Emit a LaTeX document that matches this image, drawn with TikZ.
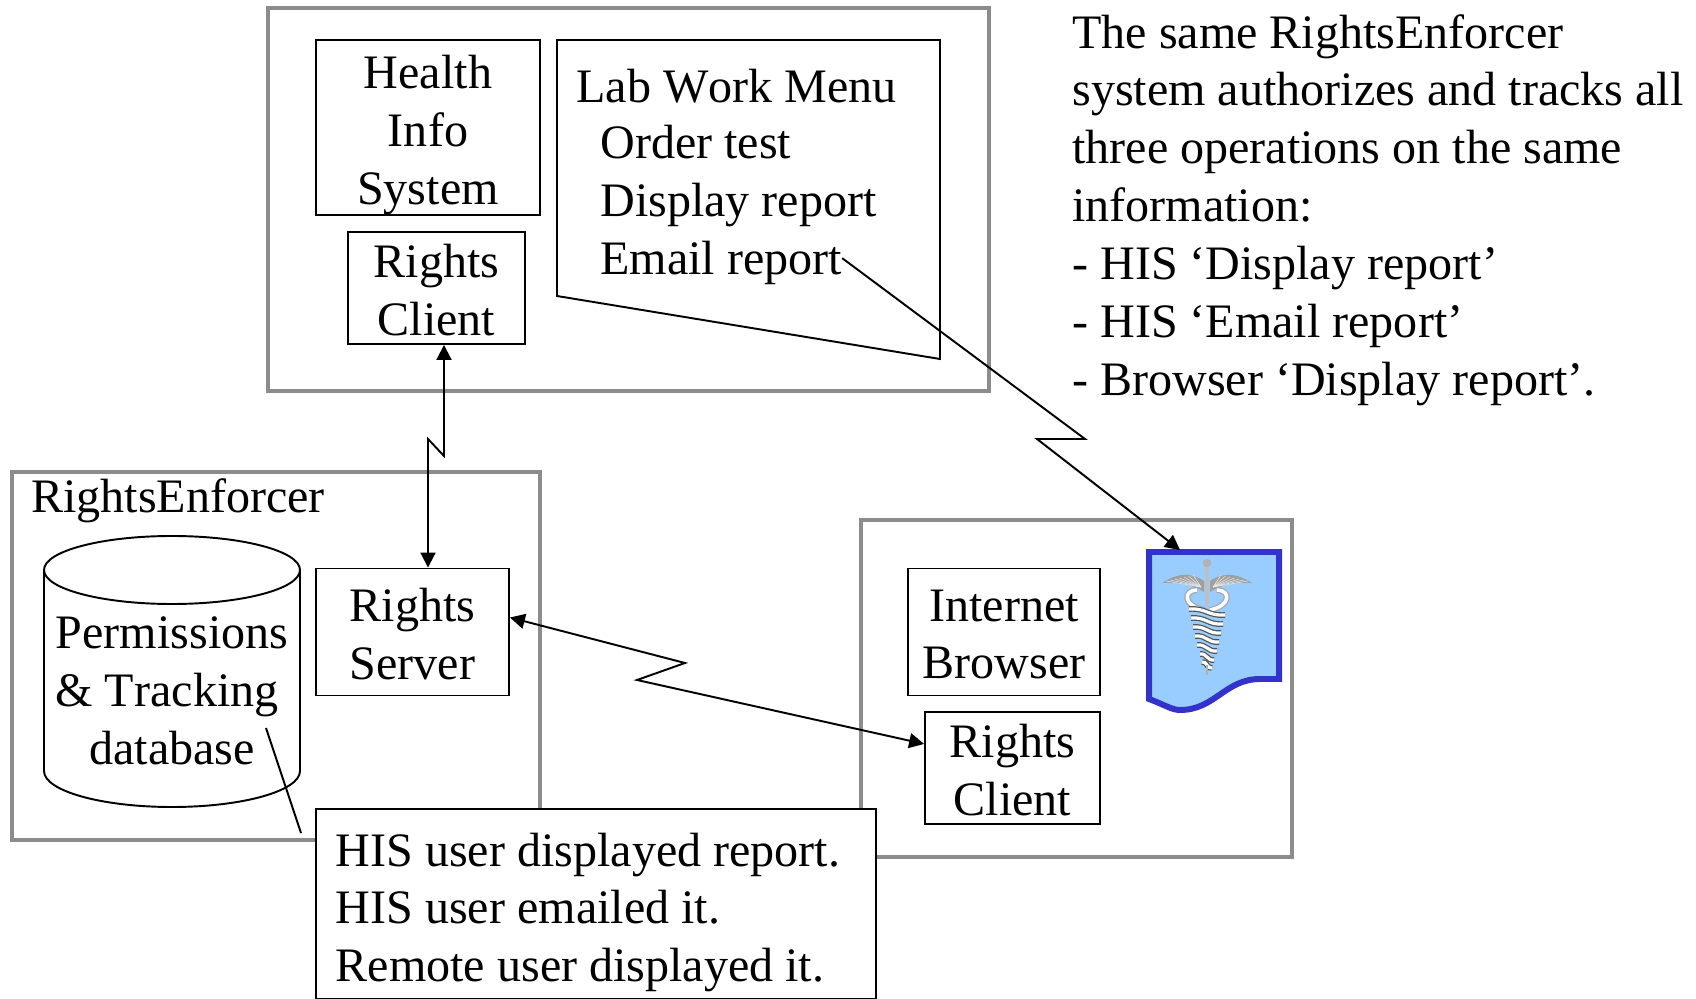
\documentclass[tikz,border=0pt]{standalone}
\usepackage{fontspec}
\setmainfont[Kerning=Off]{Liberation Serif}
\usetikzlibrary{arrows.meta}
\definecolor{framegray}{HTML}{8C8C8C}
\definecolor{docblue}{HTML}{99CCFF}
\definecolor{docedge}{HTML}{3333CC}
\tikzset{
  every node/.style={font=\fontsize{27.35pt}{32.9pt}\selectfont, inner sep=0pt},
  frame/.style={draw=framegray, line width=2.3pt},
  box/.style={draw, line width=1.1pt, fill=white},
  textline/.style={anchor=base west},
  link/.style={line width=1.1pt, {Triangle[length=8.5pt,width=8.5pt]}-{Triangle[length=8.5pt,width=8.5pt]}},
  oneway/.style={line width=1.1pt, -{Triangle[length=8.5pt,width=8.5pt]}}
}
\begin{document}
\begin{tikzpicture}[x=0.02cm, y=-0.02cm]
  \useasboundingbox (0,0) rectangle (1696,999);

  % The three gray frames
  \draw[frame] (268,8) rectangle (989,391);
  \draw[frame] (12,472) rectangle (540,840);
  \draw[frame] (861,520) rectangle (1292,857);

  % Top frame
  \node[box, minimum width=4.48cm, minimum height=3.5cm, label={[align=center, yshift=-4.2pt]center:Health\\Info\\System}] (health) at (428,127.5) {};
  \node[box, minimum width=3.54cm, minimum height=2.24cm, label={[align=center, yshift=-1.4pt]center:Rights\\Client}] (hisclient) at (436.5,288) {};
  \draw[line width=1.1pt] (557,40) -- (940,40) -- (940,359) -- (557,296) -- cycle; % Menu with slanted edge
  \node[textline] (menutitle) at (576,103) {Lab Work Menu};
  \node[textline] (orderitem) at (600,159) {Order test};
  \node[textline] (displayitem) at (600,217) {Display report};
  \node[textline] (emailitem) at (600,275) {Email report};

  % Text on the right
  \node[anchor=north west, align=left] (notes) at (1072,14) {The same RightsEnforcer\\system authorizes and tracks all\\three operations on the same\\information:\\- HIS ‘Display report’\\- HIS ‘Email report’\\- Browser ‘Display report’.};

  % RightsEnforcer frame
  \node[textline] (enforcer) at (31,513) {RightsEnforcer};
  \draw[line width=1.1pt] (44,570) -- (44,771) arc[start angle=180, end angle=0, x radius=128, y radius=36] -- (300,570);
  \draw[line width=1.1pt] (172,570) ellipse [x radius=128, y radius=34];
  \node[align=center] (database) at (172,691) {Permissions\\\hbox{\& Tracking\kern 5.7pt}\\database};
  \node[box, minimum width=3.86cm, minimum height=2.54cm, label={[align=center, yshift=-1.4pt]center:Rights\\Server}] (server) at (412.5,632) {};

  % Browser frame
  \node[box, minimum width=3.84cm, minimum height=2.54cm, label={[align=center, yshift=-1.4pt]center:Internet\\Browser}] (browser) at (1004,632) {};
  \node[box, minimum width=3.5cm, minimum height=2.24cm, label={[align=center, yshift=-1.2pt]center:Rights\\Client}] (webclient) at (1012.5,768) {};

  % The report page
  \draw[draw=docedge, fill=docblue, line width=3.4pt, miter limit=2] (1149,552) -- (1279,552) -- (1279,679) -- (1260,679)
    .. controls (1225,679) and (1215,710) .. (1180,710)
    .. controls (1172,710) and (1165,705) .. (1149,699) -- cycle;

  % Staff emblem on the page
  \foreach \s in {-1,1} {
    \fill[gray!75] (1207+\s*3,581) .. controls (1207+\s*12,575) and (1207+\s*25,570) .. (1207+\s*45,583)
      .. controls (1207+\s*30,582) and (1207+\s*15,584) .. (1207+\s*3,592) -- cycle; % Wing
    \foreach \k in {0,...,6} {
      \draw[white!85!gray, line width=0.3pt] (1207+\s*6,587) -- (1207+\s*14+\s*\k*4.5,575+\k*1); % Feathers
    }
    \draw[gray!70, line width=3.4pt] (1207+\s*3,610) .. controls (1207+\s*24,606) and (1207+\s*24,590) .. (1207+\s*10,590); % Snake top
    \draw[white, line width=2pt] (1207+\s*3,610) .. controls (1207+\s*24,606) and (1207+\s*24,590) .. (1207+\s*10,590);
  }
  \draw[gray!50, line width=2.2pt] (1207,566) -- (1207,606);
  \fill[gray!60] (1207,563) circle (4.2);
  \foreach \y/\w in {612/18, 621/16, 630/14, 639/12, 648/10, 657/7, 665/5} {
    \draw[gray!65!black, line width=3.2pt] (1207-\w,\y-3) .. controls (1207,\y-4) and (1207,\y+4) .. (1207+\w,\y+3); % Coil turns
    \draw[white, line width=1.8pt] (1207-\w,\y-3) .. controls (1207,\y-4) and (1207,\y+4) .. (1207+\w,\y+3);
  }
  \draw[gray!60, line width=1.4pt] (1207,665) -- (1207,675);

  % Note box over the frames
  \node[box, minimum width=11.2cm, minimum height=3.8cm, label={[anchor=west, xshift=11.6pt, yshift=-4.8pt, align=left]west:HIS user displayed report.\\HIS user emailed it.\\Remote user displayed it.}] (note) at (596,904) {};

  % Connectors
  \coordinate (kinkA) at (444,456);
  \coordinate (kinkB) at (428,439);
  \draw[link] (hisclient.south -| kinkA) -- (kinkA) -- (kinkB) -- (kinkB |- server.north);

  \coordinate (kinkC) at (685,663);
  \coordinate (kinkD) at (637,680);
  \draw[link] ([yshift=8.25pt]server.east) -- (kinkC) -- (kinkD) -- ([yshift=13.7pt]webclient.west);

  \coordinate (kinkE) at (1085,439);
  \coordinate (kinkF) at (1037,439);
  \coordinate (pagetop) at (1180,550);
  \draw[oneway] ([yshift=3pt]emailitem.east) -- (kinkE) -- (kinkF) -- (pagetop);

  % Pointer from the database to the note
  \coordinate (dbstart) at (266,728);
  \coordinate (dbend) at (301,833);
  \draw[line width=1.1pt] (dbstart) -- (dbend);
\end{tikzpicture}
\end{document}
